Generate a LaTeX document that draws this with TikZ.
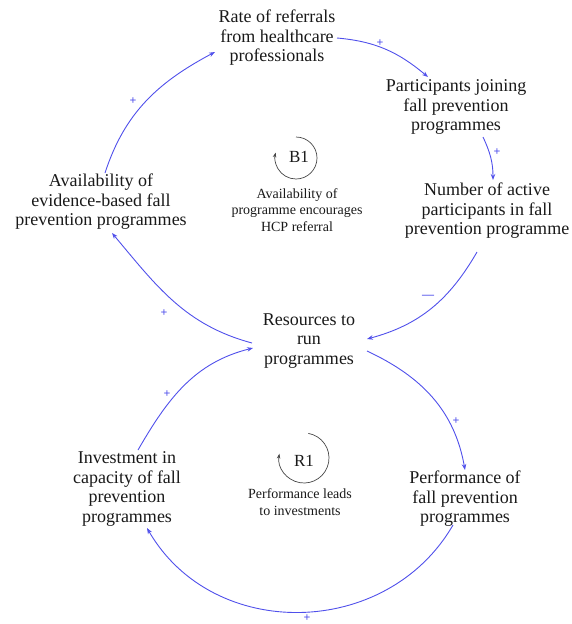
\documentclass[tikz,border=0pt]{standalone}
\usepackage{fontspec}
\setmainfont{Liberation Serif}
\newfontfamily\cldserif{Liberation Serif}
\usetikzlibrary{arrows.meta}
\definecolor{cld}{RGB}{80,80,235}
\definecolor{loopc}{RGB}{70,70,70}
\begin{document}
\begin{tikzpicture}[x=1pt,y=1pt,
  var/.style={align=center,inner sep=0pt,text=black!90,font=\cldserif\fontsize{18}{19.5}\selectfont},
  note/.style={align=center,inner sep=0pt,text=black!90,font=\cldserif\fontsize{14}{16.5}\selectfont},
  link/.style={cld,line width=0.9pt,-{Stealth[length=6pt,width=4.5pt]}},
  pol/.style={text=cld,inner sep=0pt,font=\cldserif\bfseries\fontsize{12}{12}\selectfont},
  loopname/.style={inner sep=0pt,text=black!90,font=\cldserif\fontsize{17}{17}\selectfont},
  looparc/.style={loopc,line width=0.7pt,-{Stealth[length=5pt,width=3.5pt]}}]
\useasboundingbox (0,0) rectangle (571,-624);
\node[var] (rate) at (277,-38) {Rate of referrals\\from healthcare\\professionals};
\node[var] (join) at (456,-107) {Participants joining\\fall prevention\\programmes};
\node[var] (active) at (487,-211) {Number of active\\participants in fall\\prevention programme};
\node[var] (avail) at (101,-202) {Availability of\\evidence-based fall\\prevention programmes};
\node[var] (res) at (309,-341) {Resources to\\run\\programmes};
\node[var] (invest) at (127,-489) {Investment in\\capacity of fall\\prevention\\programmes};
\node[var] (perf) at (465,-499) {Performance of\\fall prevention\\programmes};

% B1 loop
\coordinate (b1c) at (296,-158);
\node[loopname] (b1) at (299,-157) {B1};
\draw[looparc] ([shift={(90:21)}]b1c) arc[start angle=90,end angle=-195,radius=21];
\node[note] (b1l) at (297,-210) {Availability of\\programme encourages\\HCP referral};

% R1 loop
\coordinate (r1c) at (304,-458);
\node[loopname] (r1) at (304,-461) {R1};
\draw[looparc] ([shift={(80:25)}]r1c) arc[start angle=80,end angle=-190,radius=25];
\node[note] (r1l) at (300,-502) {Performance leads\\to investments};

% links
\draw[link] ([shift={(4,29)}]avail.center) to[out=72,in=208] ([shift={(-62,-14)}]rate.center);
\draw[link] ([shift={(60,0)}]rate.center) to[out=-5,in=140] ([shift={(-28,30)}]join.center);
\draw[link] ([shift={(27,-30)}]join.center) to[out=-65,in=90] ([shift={(6,31)}]active.center);
\draw[link] ([shift={(-10,-41)}]active.center) to[out=-120,in=15] ([shift={(58,2)}]res.center);
\draw[link] ([shift={(-57,-2)}]res.center) to[out=165,in=-50] ([shift={(11,-31)}]avail.center);
\draw[link] ([shift={(58,-10)}]res.center) to[out=-25,in=100] ([shift={(0,29)}]perf.center);
\draw[link] ([shift={(-12,-26)}]perf.center) to[out=-120,in=-60,looseness=1.1] ([shift={(20,-39)}]invest.center);
\draw[link] ([shift={(11,39)}]invest.center) to[out=60,in=194] ([shift={(-56,-7)}]res.center);

% polarities
\node[pol] (pa) at (133,-101) {+};
\node[pol] (pb) at (380,-43) {+};
\node[pol] (pc) at (497,-152) {+};
\node[pol] (pd) at (428,-297) {—};
\node[pol] (pe) at (164,-313) {+};
\node[pol] (pf) at (456,-421) {+};
\node[pol] (pg) at (307,-618) {+};
\node[pol] (ph) at (167,-394) {+};
\end{tikzpicture}
\end{document}
